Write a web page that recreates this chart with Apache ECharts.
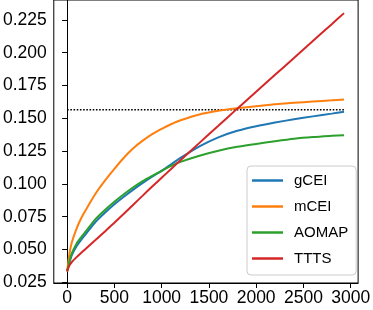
<!DOCTYPE html>
<html>
<head>
<meta charset="utf-8">
<script src="https://cdn.jsdelivr.net/npm/echarts@6/dist/echarts.min.js"></script>
<style>html,body{margin:0;padding:0;background:#fff;}#c{width:373px;height:310px;}</style>
</head>
<body>
<div id="c"></div>
<script>
const xs = [0, 25, 50, 100, 150, 200, 300, 400, 500, 600, 700, 800, 900, 1000, 1100, 1200, 1400, 1600, 1800, 2000, 2200, 2400, 2600, 2800, 2930];
const gCEI  = [0.0334, 0.0400, 0.0458, 0.0525, 0.0575, 0.0620, 0.0710, 0.0780, 0.0845, 0.0903, 0.0957, 0.1008, 0.1056, 0.1100, 0.1150, 0.1198, 0.1286, 0.1355, 0.1405, 0.1440, 0.1468, 0.1493, 0.1515, 0.1536, 0.1550];
const mCEI  = [0.0334, 0.0470, 0.0555, 0.0660, 0.0740, 0.0805, 0.0925, 0.1025, 0.1115, 0.1200, 0.1272, 0.1330, 0.1380, 0.1420, 0.1455, 0.1485, 0.1530, 0.1558, 0.1577, 0.1593, 0.1607, 0.1618, 0.1628, 0.1637, 0.1644];
const AOMAP = [0.0334, 0.0410, 0.0472, 0.0545, 0.0595, 0.0640, 0.0732, 0.0802, 0.0865, 0.0922, 0.0975, 0.1022, 0.1062, 0.1100, 0.1138, 0.1168, 0.1215, 0.1253, 0.1283, 0.1305, 0.1326, 0.1345, 0.1358, 0.1367, 0.1372];
const TTTS  = [0.0334, 0.0380, 0.0405, 0.0442, 0.0475, 0.0508, 0.0572, 0.0638, 0.0705, 0.0773, 0.0842, 0.0911, 0.0980, 0.1047, 0.1114, 0.1181, 0.1313, 0.1443, 0.1574, 0.1703, 0.1832, 0.1960, 0.2089, 0.2218, 0.2302];
const refX = [0, 2930];
const refY = [0.1565, 0.1565];
const xTicks = [0, 500, 1000, 1500, 2000, 2500, 3000];
const yTicks = [0.025, 0.050, 0.075, 0.100, 0.125, 0.150, 0.175, 0.200, 0.225];

const names = ['gCEI', 'mCEI', 'AOMAP', 'TTTS'];
const vals = [gCEI, mCEI, AOMAP, TTTS];
const colors = ['#1f77b4', '#ff7f0e', '#2ca02c', '#d62728'];
const pair = (a, b) => a.map((x, i) => [x, b[i]]);

const font = 'Liberation Sans, Arial, sans-serif';
const chart = echarts.init(document.getElementById('c'), null, {renderer: 'canvas'});
const series = names.map((n, i) => ({
  name: n, type: 'line', data: pair(xs, vals[i]), symbol: 'none', smooth: 0.25,
  lineStyle: {color: colors[i], width: 2}, itemStyle: {color: colors[i]}, z: 3 + i
}));
series.unshift({
  name: 'ref', type: 'line', data: pair(refX, refY), symbol: 'none',
  lineStyle: {color: '#000', width: 1.6, type: [1.6, 1.6]}, z: 2, silent: true
});
chart.setOption({
  animation: false,
  backgroundColor: '#fff',
  grid: {left: 49, right: 11, top: 0, bottom: 27, show: true, borderColor: '#000', borderWidth: 1, backgroundColor: 'transparent'},
  xAxis: {
    type: 'value', min: -141, max: 3079,
    axisLine: {show: true, lineStyle: {color: '#000', width: 1}},
    axisTick: {show: true, length: 5, lineStyle: {color: '#000'}, customValues: xTicks},
    axisLabel: {customValues: xTicks, color: '#000', fontSize: 17.5, fontFamily: font, margin: 6,
      formatter: v => String(Math.round(v))},
    splitLine: {show: false}
  },
  yAxis: {
    type: 'value', min: 0.0245, max: 0.2402,
    axisLine: {show: true, lineStyle: {color: '#000', width: 1}},
    axisTick: {show: true, length: 5, lineStyle: {color: '#000'}, customValues: yTicks},
    axisLabel: {customValues: yTicks, color: '#000', fontSize: 17.5, fontFamily: font, margin: 7,
      formatter: v => v.toFixed(3)},
    splitLine: {show: false}
  },
  legend: {
    data: names, orient: 'vertical', left: 247, top: 166,
    padding: [7, 8, 9, 5], itemGap: 11, itemWidth: 31, itemHeight: 2.5, icon: 'rect',
    borderColor: '#cccccc', borderWidth: 1, borderRadius: 4, backgroundColor: 'rgba(255,255,255,0.8)',
    textStyle: {color: '#000', fontSize: 15, fontFamily: font, padding: [0, 0, 0, 6]}
  },
  series: series
});
</script>
</body>
</html>
